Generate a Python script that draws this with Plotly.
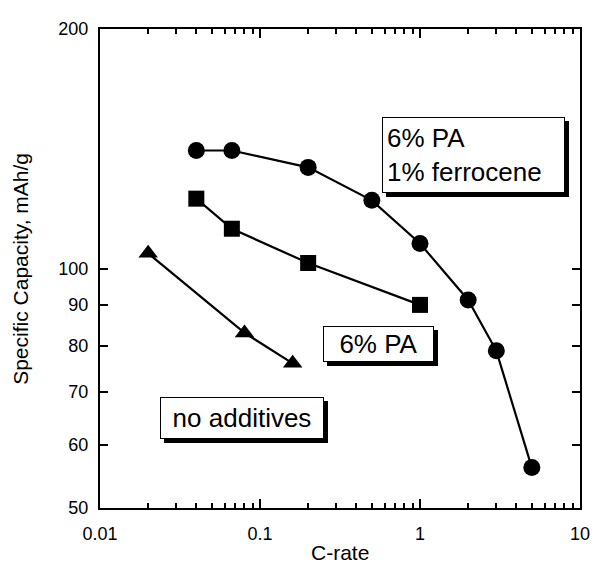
import plotly.graph_objects as go

# --- data ---
ferro_x = [0.04, 0.0667, 0.2, 0.5, 1, 2, 3, 5]
ferro_y = [140.7, 140.7, 134, 121.8, 107.5, 91.3, 78.8, 56.2]
pa_x = [0.04, 0.0667, 0.2, 1]
pa_y = [122.4, 112.2, 101.6, 90]
none_x = [0.02, 0.08, 0.16]
none_y = [104.5, 83, 76]

x_major = [0.01, 0.1, 1, 10]
x_major_text = ["0.01", "0.1", "1", "10"]
x_minor = [m * d for d in (0.01, 0.1, 1) for m in range(2, 10)]
y_ticks = [50, 60, 70, 80, 90, 100, 200]
y_tick_text = ["50", "60", "70", "80", "90", "100", "200"]

FONT = "Liberation Sans, Arial, Helvetica, sans-serif"

fig = go.Figure()
line = dict(color="black", width=2.2)
fig.add_trace(go.Scatter(x=ferro_x, y=ferro_y, mode="lines+markers", line=line,
                         marker=dict(symbol="circle", size=17, color="black"), showlegend=False))
fig.add_trace(go.Scatter(x=pa_x, y=pa_y, mode="lines+markers", line=line,
                         marker=dict(symbol="square", size=16, color="black"), showlegend=False))
fig.add_trace(go.Scatter(x=none_x, y=none_y, mode="lines+markers", line=line,
                         marker=dict(symbol="triangle-up", size=17, color="black"), showlegend=False))
# invisible trace so the minor-tick overlay axis is drawn
fig.add_trace(go.Scatter(x=[x_major[0]], y=[y_ticks[0]], xaxis="x2", mode="markers",
                         marker=dict(opacity=0), showlegend=False, hoverinfo="skip"))

def boxed(text, x, y, w, h, align="left"):
    common = dict(xref="paper", yref="paper", x=x, y=y, xanchor="left", yanchor="top",
                  showarrow=False, text=text, width=w, height=h, align=align,
                  borderpad=4, borderwidth=1, font=dict(family=FONT, size=26, color="black"))
    fig.add_annotation(**common, bgcolor="black", bordercolor="black", xshift=4, yshift=-4)
    fig.add_annotation(**common, bgcolor="white", bordercolor="black")

boxed("6% PA<br>1% ferrocene", 0.588, 0.816, 173, 66)
boxed("6% PA", 0.465, 0.380, 101, 26, align="center")
boxed("no additives", 0.125, 0.231, 154, 32, align="center")

# axis titles
fig.add_annotation(xref="paper", yref="paper", x=0.5, y=-0.092, xanchor="center", yanchor="middle",
                   showarrow=False, text="C-rate", font=dict(family=FONT, size=21, color="black"))
fig.add_annotation(xref="paper", yref="paper", x=-0.166, y=0.5, xanchor="center", yanchor="middle",
                   textangle=-90, showarrow=False, text="Specific Capacity, mAh/g",
                   font=dict(family=FONT, size=21, color="black"))

tickfont = dict(family=FONT, size=18, color="black")
# page body has an 8px default margin; figure is sized so the plot lands where the reference has it
fig.update_layout(
    width=593, height=561, plot_bgcolor="white", paper_bgcolor="white",
    margin=dict(l=92, r=13, t=11, b=61), font=dict(family=FONT),
    xaxis=dict(type="log", range=[-2, 1], tickmode="array", tickvals=x_major, ticktext=x_major_text,
               showline=True, linecolor="black", linewidth=2, mirror="ticks", ticks="inside",
               ticklen=9, tickwidth=2, tickcolor="black", showgrid=False, zeroline=False,
               tickfont=tickfont, ticklabelstandoff=8),
    xaxis2=dict(type="log", range=[-2, 1], overlaying="x", anchor="y", side="bottom",
                tickmode="array", tickvals=x_minor, showticklabels=False, ticks="inside",
                ticklen=5, tickwidth=2, tickcolor="black", mirror="ticks", showline=False,
                showgrid=False, zeroline=False),
    yaxis=dict(type="log", range=[1.69897, 2.30103], tickmode="array", tickvals=y_ticks,
               ticktext=y_tick_text, showline=True, linecolor="black", linewidth=2, mirror="ticks",
               ticks="inside", ticklen=8, tickwidth=2, tickcolor="black", showgrid=False,
               zeroline=False, tickfont=tickfont, ticklabelstandoff=6),
)

fig.write_html("out.html")
